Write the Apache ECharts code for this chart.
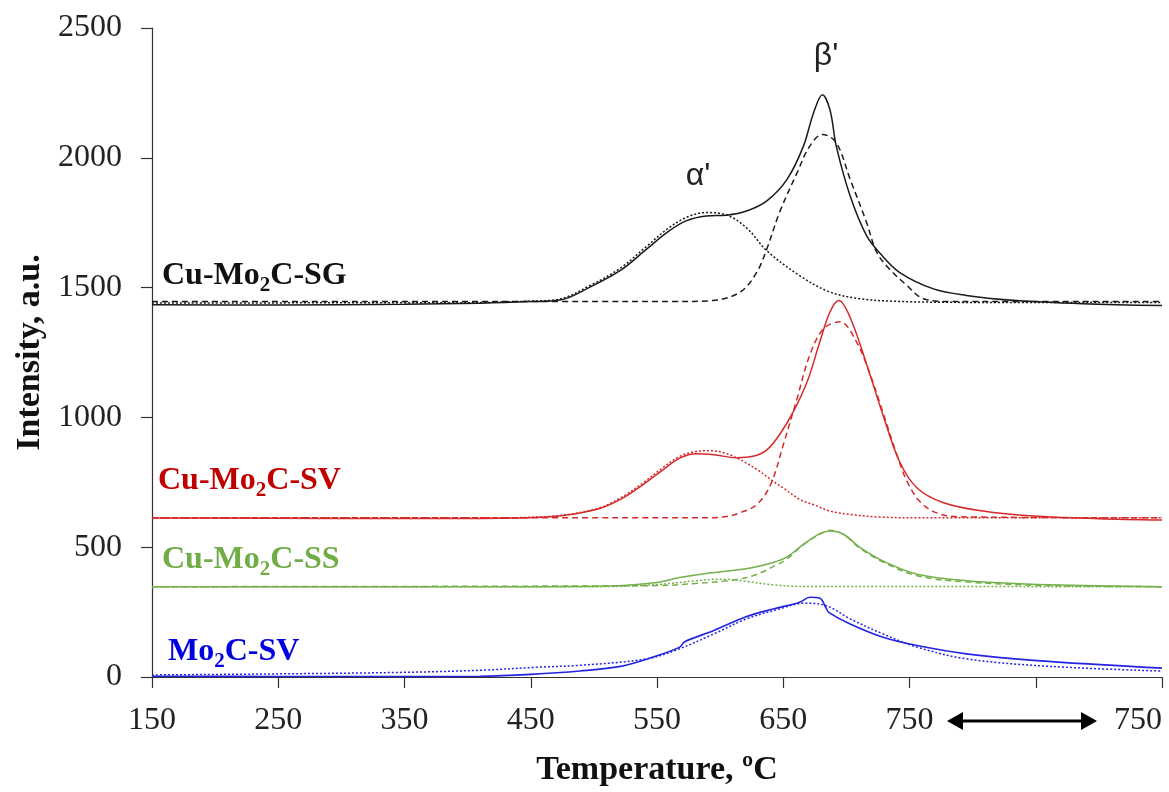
<!DOCTYPE html>
<html>
<head>
<meta charset="utf-8">
<script src="https://cdn.jsdelivr.net/npm/echarts@6/dist/echarts.min.js"></script>
<style>html,body{margin:0;padding:0;background:#fff}#c{width:1169px;height:792px}</style>
</head>
<body>
<div id="c"></div>
<script>
// ---------- tick labels ----------
const xTicks = [150, 250, 350, 450, 550, 650, 750, 850, 950];
const xTickLabels = ['150', '250', '350', '450', '550', '650', '750', '', '750'];
const yTicks = [0, 500, 1000, 1500, 2000, 2500];

// ---------- Cu-Mo2C-SG (black) ----------
const sgExpX = [150, 250, 350, 410, 450, 473, 497, 521, 542, 558, 573, 589, 605, 621, 637, 653, 666, 674, 681, 687, 692, 703, 716, 727, 742, 769, 795, 835, 887, 950];
const sgExpY = [1434, 1433, 1436, 1440, 1446, 1452, 1502, 1566, 1649, 1713, 1757, 1776, 1779, 1795, 1834, 1917, 2045, 2173, 2243, 2185, 2045, 1853, 1700, 1630, 1559, 1495, 1470, 1450, 1438, 1431];
const sgAlphaX = [150, 400, 450, 473, 497, 521, 542, 558, 573, 589, 605, 621, 637, 663, 687, 711, 740, 800, 950];
const sgAlphaY = [1441, 1442, 1448, 1456, 1508, 1575, 1660, 1725, 1770, 1789, 1780, 1730, 1642, 1546, 1483, 1457, 1447, 1443, 1443];
const sgBetaX = [150, 560, 594, 616, 629, 637, 647, 661, 671, 681, 692, 703, 716, 724, 734, 748, 761, 782, 950];
const sgBetaY = [1446, 1446, 1450, 1483, 1559, 1649, 1789, 1943, 2045, 2090, 2058, 1917, 1751, 1636, 1572, 1508, 1457, 1446, 1446];

// ---------- Cu-Mo2C-SV (red) ----------
const svExpX = [150, 300, 410, 463, 502, 521, 539, 555, 568, 581, 595, 613, 626, 637, 647, 658, 669, 679, 687, 694, 703, 716, 729, 742, 756, 777, 808, 848, 900, 950];
const svExpY = [612, 611, 611, 616, 645, 684, 741, 799, 843, 860, 856, 845, 850, 875, 933, 1022, 1138, 1291, 1406, 1450, 1385, 1205, 1009, 831, 728, 671, 639, 620, 610, 605];
const svAlphaX = [150, 410, 463, 502, 521, 539, 555, 568, 580, 592, 604, 616, 629, 642, 650, 663, 676, 687, 703, 727, 760, 950];
const svAlphaY = [613, 613, 618, 648, 690, 748, 808, 850, 868, 872, 862, 837, 800, 754, 728, 684, 660, 639, 626, 616, 613, 613];
const svBetaX = [150, 590, 605, 616, 629, 640, 650, 661, 671, 682, 695, 708, 719, 727, 740, 748, 758, 771, 790, 950];
const svBetaY = [613, 613, 618, 633, 664, 741, 894, 1074, 1240, 1342, 1368, 1291, 1163, 1048, 856, 754, 677, 633, 617, 613];

// ---------- Cu-Mo2C-SS (green) ----------
const ssExpX = [150, 410, 515, 550, 568, 589, 608, 626, 642, 653, 666, 679, 687, 698, 711, 729, 756, 795, 861, 950];
const ssExpY = [348, 348, 351, 364, 383, 399, 409, 422, 441, 463, 511, 552, 562, 549, 498, 447, 396, 371, 355, 348];
const ssAlphaX = [150, 500, 550, 581, 602, 621, 642, 663, 950];
const ssAlphaY = [348, 348, 356, 371, 377, 368, 355, 349, 348];
const ssBetaX = [150, 550, 580, 608, 626, 642, 653, 666, 679, 687, 698, 711, 729, 756, 795, 861, 950];
const ssBetaY = [348, 352, 360, 372, 390, 425, 455, 510, 550, 565, 548, 495, 443, 390, 366, 352, 348];

// ---------- Mo2C-SV (blue) ----------
const msExpX = [150, 250, 350, 410, 450, 489, 521, 547, 568, 572, 595, 621, 642, 663, 671, 679, 684, 686, 703, 729, 756, 795, 848, 950];
const msExpY = [3, 2, 2, 3, 10, 23, 41, 77, 115, 136, 179, 233, 262, 288, 307, 303, 265, 249, 204, 153, 121, 89, 64, 34];
const msFitX = [150, 250, 350, 410, 457, 489, 542, 568, 595, 621, 647, 666, 684, 703, 729, 756, 795, 861, 950];
const msFitY = [8, 12, 18, 26, 38, 45, 70, 109, 166, 224, 262, 284, 275, 224, 166, 115, 70, 41, 23];

const pairs = (xs, ys) => xs.map((x, i) => [x, ys[i]]);

const BLACK = '#1a1a1a', RED = '#d62a2a', GREEN = '#74b04c', BLUE = '#2424e0';
const SERIF = '"Liberation Serif", "Times New Roman", serif';

function line(name, xs, ys, color, type, width) {
  return {
    name, type: 'line', data: pairs(xs, ys), showSymbol: false, symbol: 'none',
    smooth: 0.35, silent: true,
    lineStyle: { color, width: width || 1.5, type: type || 'solid' }
  };
}

const chart = echarts.init(document.getElementById('c'), null, { renderer: 'canvas' });

function labelText(parts, color, x, y) {
  const rich = {
    a: { fontFamily: SERIF, fontSize: 32, fontWeight: 'bold', fill: color, lineHeight: 40, verticalAlign: 'middle' },
    s: { fontFamily: SERIF, fontSize: 21, fontWeight: 'bold', fill: color, lineHeight: 40, verticalAlign: 'bottom' }
  };
  return {
    type: 'text', x, y, silent: true,
    style: { text: parts, rich, align: 'left', verticalAlign: 'middle' }
  };
}

const option = {
  animation: false,
  backgroundColor: '#fff',
  grid: { left: 152, right: 7, top: 28, bottom: 112, containLabel: false },
  xAxis: {
    type: 'value', min: 150, max: 950, interval: 100,
    name: 'Temperature, ºC', nameLocation: 'middle', nameGap: 76,
    nameTextStyle: { fontFamily: SERIF, fontSize: 34, fontWeight: 'bold', color: '#111' },
    axisLine: { show: true, onZero: false, lineStyle: { color: '#333', width: 1.2 } },
    axisTick: { show: true, inside: false, length: 11, lineStyle: { color: '#333', width: 1.2 } },
    axisLabel: {
      fontFamily: SERIF, fontSize: 32, color: '#222', margin: 28,
      showMinLabel: true, showMaxLabel: true, alignMaxLabel: 'right',
      formatter: v => { const i = xTicks.indexOf(v); return i >= 0 ? xTickLabels[i] : ''; }
    },
    splitLine: { show: false }
  },
  yAxis: {
    type: 'value', min: 0, max: 2500, interval: 500,
    name: 'Intensity, a.u.', nameLocation: 'middle', nameGap: 98,
    nameTextStyle: { fontFamily: SERIF, fontSize: 34, fontWeight: 'bold', color: '#111' },
    axisLine: { show: true, lineStyle: { color: '#333', width: 1.2 } },
    axisTick: { show: true, inside: false, length: 11, lineStyle: { color: '#333', width: 1.2 } },
    axisLabel: {
      fontFamily: SERIF, fontSize: 32, color: '#222', margin: 30,
      formatter: v => (yTicks.indexOf(v) >= 0 ? String(v) : '')
    },
    splitLine: { show: false }
  },
  series: [
    line('SG baseline-β', sgBetaX, sgBetaY, BLACK, [6, 4], 1.5),
    line('SG α', sgAlphaX, sgAlphaY, BLACK, [2, 2], 1.5),
    line('SG exp', sgExpX, sgExpY, BLACK, 'solid', 1.5),
    line('SV β', svBetaX, svBetaY, RED, [6, 4], 1.5),
    line('SV α', svAlphaX, svAlphaY, RED, [2, 2], 1.5),
    line('SV exp', svExpX, svExpY, RED, 'solid', 1.5),
    line('SS β', ssBetaX, ssBetaY, GREEN, [6, 4], 1.5),
    line('SS α', ssAlphaX, ssAlphaY, GREEN, [2, 2], 1.5),
    line('SS exp', ssExpX, ssExpY, GREEN, 'solid', 1.5),
    line('Mo2C fit', msFitX, msFitY, BLUE, [2, 2], 1.5),
    line('Mo2C exp', msExpX, msExpY, BLUE, 'solid', 1.6)
  ],
  graphic: [
    labelText('{a|Cu-Mo}{s|2}{a|C-SG}', '#111', 162, 276),
    labelText('{a|Cu-Mo}{s|2}{a|C-SV}', '#c00000', 158, 481),
    labelText('{a|Cu-Mo}{s|2}{a|C-SS}', '#70ad47', 162, 560),
    labelText('{a|Mo}{s|2}{a|C-SV}', '#0000e0', 168, 652),
    { type: 'text', x: 698, y: 176, silent: true,
      style: { text: "α'", fontFamily: '"Liberation Sans", Arial, sans-serif', fontSize: 32, fill: '#222', align: 'center', verticalAlign: 'middle' } },
    { type: 'text', x: 826, y: 56, silent: true,
      style: { text: "β'", fontFamily: '"Liberation Sans", Arial, sans-serif', fontSize: 32, fill: '#222', align: 'center', verticalAlign: 'middle' } },
    { type: 'group', silent: true, children: [
      { type: 'line', shape: { x1: 958, y1: 721, x2: 1086, y2: 721 }, style: { stroke: '#000', lineWidth: 3 } },
      { type: 'polygon', shape: { points: [[947, 721], [963, 712], [963, 730]] }, style: { fill: '#000' } },
      { type: 'polygon', shape: { points: [[1097, 721], [1081, 712], [1081, 730]] }, style: { fill: '#000' } }
    ] }
  ]
};
chart.setOption(option);
</script>
</body>
</html>
